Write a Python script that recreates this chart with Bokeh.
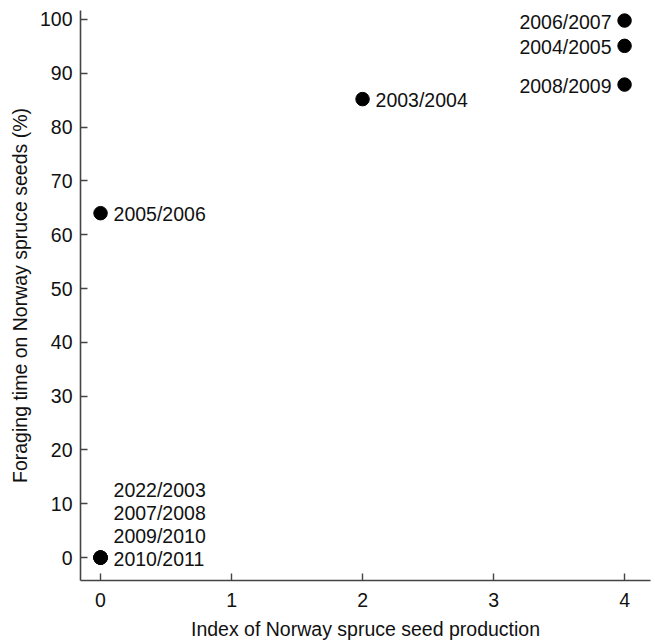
from bokeh.plotting import figure
from bokeh.models import Range1d, FixedTicker, ColumnDataSource
from bokeh.embed import file_html
from bokeh.resources import INLINE
from bokeh.core.properties import value

# Data
seed_index = [0, 0, 0, 0, 0, 2, 4, 4, 4]
foraging_pct = [0, 0, 0, 0, 64, 85.2, 99.8, 95.1, 87.9]
season_labels = ["2010/2011", "2009/2010", "2007/2008", "2022/2003",
                 "2005/2006", "2003/2004", "2006/2007", "2004/2005", "2008/2009"]
x_ticks = [0, 1, 2, 3, 4]
y_ticks = [0, 10, 20, 30, 40, 50, 60, 70, 80, 90, 100]

FONT = "Liberation Sans"
FS = "19.5px"

p = figure(width=655, height=642, output_backend="svg", toolbar_location=None,
           x_range=Range1d(-0.153, 4.198), y_range=Range1d(-4.26, 101.67),
           min_border_left=80, min_border_right=5, min_border_top=10, min_border_bottom=60)
p.outline_line_color = None
p.grid.visible = False
p.background_fill_color = "white"

# styling for labels
aligns = ["left", "left", "left", "left", "left", "left", "right", "right", "right"]
x_offs = [13, 13, 13, 13, 13, 13, -13, -13, -13]
y_offs = [1, -22, -45, -68, 1, 1, 1, 1, 1]

src = ColumnDataSource(dict(x=seed_index, y=foraging_pct, label=season_labels,
                            align=aligns, xo=x_offs, yo=y_offs))

p.scatter("x", "y", source=src, size=13.5, color="black")
p.text("x", "y", text="label", source=src, text_align="align", x_offset="xo", y_offset="yo",
       text_baseline="middle", text_font=value(FONT), text_font_size=FS, text_color="#111111")

for ax in (p.xaxis[0], p.yaxis[0]):
    ax.axis_line_color = "#444444"
    ax.axis_line_width = 1.6
    ax.major_tick_line_color = "#444444"
    ax.major_tick_line_width = 1.4
    ax.major_tick_in = 7
    ax.major_tick_out = 0
    ax.minor_tick_line_color = None
    ax.major_label_text_font = FONT
    ax.major_label_text_font_size = FS
    ax.major_label_text_color = "#111111"
    ax.axis_label_text_font = FONT
    ax.axis_label_text_font_size = FS
    ax.axis_label_text_font_style = "normal"
    ax.axis_label_text_color = "#111111"

p.xaxis.ticker = FixedTicker(ticks=x_ticks)
p.yaxis.ticker = FixedTicker(ticks=y_ticks)
p.xaxis.axis_label = "Index of Norway spruce seed production"
p.yaxis.axis_label = "Foraging time on Norway spruce seeds (%)"
p.xaxis.major_label_standoff = 12
p.yaxis.major_label_standoff = 8
p.xaxis.axis_label_standoff = 8
p.yaxis.axis_label_standoff = 6

open("out.html", "w").write(file_html(p, INLINE))
